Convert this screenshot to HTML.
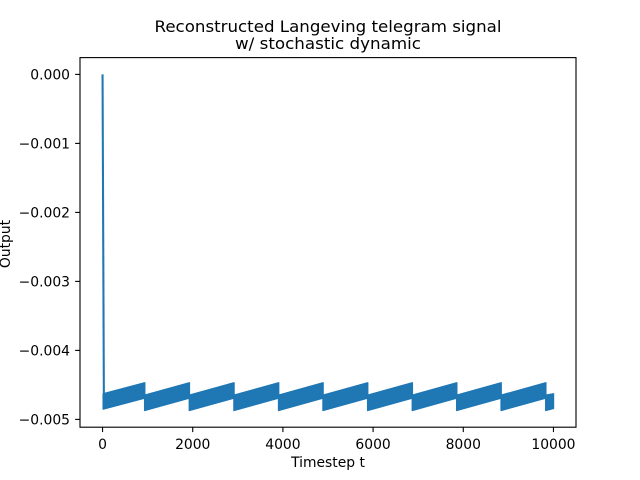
<!DOCTYPE html>
<html>
<head>
<meta charset="utf-8">
<title>Reconstructed Langeving telegram signal</title>
<style>
html,body{margin:0;padding:0;background:#fff}
svg{display:block}
text{font-family:"DejaVu Sans",sans-serif;fill:#000}
</style>
</head>
<body>
<svg id="chart" xmlns="http://www.w3.org/2000/svg" width="640" height="480" viewBox="0 0 640 480">
  <rect x="0" y="0" width="640" height="480" fill="#fff"/>
  <text x="328" y="32" font-size="16" text-anchor="middle" textLength="347" lengthAdjust="spacingAndGlyphs">Reconstructed Langeving telegram signal</text>
  <text x="328" y="49" font-size="16" text-anchor="middle" textLength="186" lengthAdjust="spacingAndGlyphs">w/ stochastic dynamic</text>
  <g id="series"></g>
  <g id="xticks"></g>
  <g id="yticks"></g>
  <rect x="80" y="57.6" width="496" height="369.6" fill="none" stroke="#000" stroke-width="1.11"/>
  <text x="328" y="467" font-size="13.89" text-anchor="middle">Timestep t</text>
  <text transform="translate(10,244) rotate(-90)" font-size="13.89" text-anchor="middle">Output</text>
</svg>
<script>
const spikeTimes = [0, 30];
const spikeValues = [0, -0.00480];
const toothStartTimes = [15, 935, 1925, 2915, 3905, 4890, 5880, 6870, 7855, 8840, 9830];
const toothEndTimes = [935, 1925, 2915, 3905, 4890, 5880, 6870, 7855, 8840, 9830, 10000];
const upperAtStart = [-0.00463, -0.00465, -0.00465, -0.00465, -0.00465, -0.00465, -0.00465, -0.00465, -0.00465, -0.00465, -0.00465];
const upperAtEnd = [-0.00447, -0.00447, -0.00447, -0.00447, -0.00447, -0.00447, -0.00447, -0.00447, -0.00447, -0.00447, -0.00463];
const lowerAtStart = [-0.00485, -0.00487, -0.00487, -0.00487, -0.00487, -0.00487, -0.00487, -0.00487, -0.00487, -0.00487, -0.00487];
const lowerAtEnd = [-0.00469, -0.00469, -0.00469, -0.00469, -0.00469, -0.00469, -0.00469, -0.00469, -0.00469, -0.00469, -0.00484];
const xTickValues = [0, 2000, 4000, 6000, 8000, 10000];
const xTickLabels = ["0", "2000", "4000", "6000", "8000", "10000"];
const yTickValues = [0, -0.001, -0.002, -0.003, -0.004, -0.005];
const yTickLabels = ["0.000", "\u22120.001", "\u22120.002", "\u22120.003", "\u22120.004", "\u22120.005"];

const NS = "http://www.w3.org/2000/svg";
const LINE_COLOR = "#1f77b4";
function xScale(t) { return 80 + (t + 500) * 496 / 11000; }
function yScale(v) { return 74.4 - v * 69000; }

const seriesGroup = document.getElementById("series");
const spike = document.createElementNS(NS, "polyline");


spike.setAttribute("points", spikeTimes.map(function (t, i) { return xScale(t) + "," + yScale(spikeValues[i]); }).join(" "));
spike.setAttribute("fill", "none");
spike.setAttribute("stroke", LINE_COLOR);
spike.setAttribute("stroke-width", "2.08");
seriesGroup.appendChild(spike);

toothStartTimes.forEach(function (start, i) {
  const end = toothEndTimes[i];
  const tooth = document.createElementNS(NS, "polygon");
  
  
  tooth.setAttribute("points", [
    xScale(start) + "," + yScale(upperAtStart[i]),
    xScale(end) + "," + yScale(upperAtEnd[i]),
    xScale(end) + "," + yScale(lowerAtEnd[i]),
    xScale(start) + "," + yScale(lowerAtStart[i])
  ].join(" "));
  tooth.setAttribute("fill", LINE_COLOR);
  tooth.setAttribute("stroke", LINE_COLOR);
  tooth.setAttribute("stroke-width", "1.5");
  tooth.setAttribute("stroke-linejoin", "round");
  seriesGroup.appendChild(tooth);
});

const xTickGroup = document.getElementById("xticks");
xTickValues.forEach(function (v, i) {
  const x = xScale(v);
  const mark = document.createElementNS(NS, "line");
  
  
  mark.setAttribute("x1", x);
  mark.setAttribute("x2", x);
  mark.setAttribute("y1", 427.2);
  mark.setAttribute("y2", 432.06);
  mark.setAttribute("stroke", "#000");
  mark.setAttribute("stroke-width", "1.11");
  xTickGroup.appendChild(mark);
  const label = document.createElementNS(NS, "text");
  
  
  label.setAttribute("x", x);
  label.setAttribute("y", 449);
  label.setAttribute("font-size", "13.89");
  label.setAttribute("text-anchor", "middle");
  label.textContent = xTickLabels[i];
  xTickGroup.appendChild(label);
});

const yTickGroup = document.getElementById("yticks");
yTickValues.forEach(function (v, i) {
  const y = yScale(v);
  const mark = document.createElementNS(NS, "line");
  
  
  mark.setAttribute("x1", 75.14);
  mark.setAttribute("x2", 80);
  mark.setAttribute("y1", y);
  mark.setAttribute("y2", y);
  mark.setAttribute("stroke", "#000");
  mark.setAttribute("stroke-width", "1.11");
  yTickGroup.appendChild(mark);
  const label = document.createElementNS(NS, "text");
  
  
  label.setAttribute("x", 70);
  label.setAttribute("y", y + 5);
  label.setAttribute("font-size", "13.89");
  label.setAttribute("text-anchor", "end");
  label.textContent = yTickLabels[i];
  yTickGroup.appendChild(label);
});
</script>
</body>
</html>
